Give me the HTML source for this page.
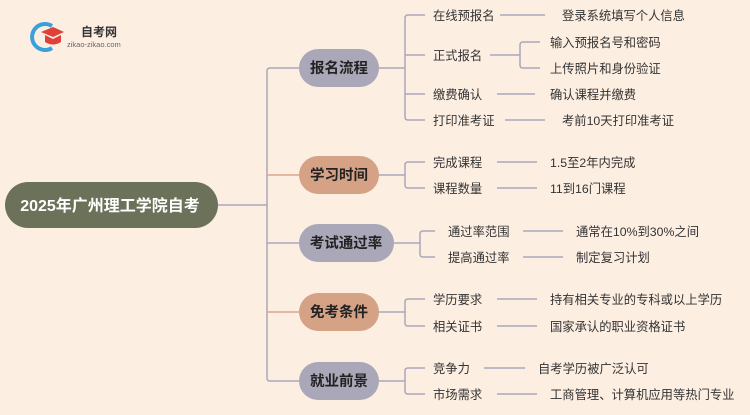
<!DOCTYPE html>
<html><head><meta charset="utf-8"><style>
body{margin:0;width:750px;height:410px;background:#fdeee2;overflow:hidden}
svg text{font-family:"Liberation Sans","Noto Sans CJK SC",sans-serif}
</style></head><body>
<svg width="750" height="410" xmlns="http://www.w3.org/2000/svg">
<rect width="750" height="410" fill="#fdeee2"/>
<path d="M52 26 A13 13 0 1 0 52 48" stroke="#3aa0d8" stroke-width="4" fill="none"/>
<path d="M41 32 L53 27 L64 32 L53 37 Z" fill="#e0403a"/>
<path d="M45 35 L45 42 Q53 47 61 42 L61 35 L53 39 Z" fill="#e0403a"/>
<text x="81" y="36" font-size="12" font-weight="bold" fill="#333">自考网</text>
<text x="67" y="47" font-size="7.5" fill="#666">zikao-zikao.com</text>
<g fill="none" stroke-width="1.5">
<line x1="218" y1="205" x2="267" y2="205" stroke="#aaa7bb"/>
<path d="M299 68 H270 Q267 68 267 71 V378 Q267 381 270 381 H299" stroke="#aaa7bb"/>
<line x1="267" y1="175" x2="299" y2="175" stroke="#dba58a"/>
<line x1="267" y1="243" x2="299" y2="243" stroke="#aaa7bb"/>
<line x1="267" y1="312" x2="299" y2="312" stroke="#dba58a"/>
<g stroke="#aaa7bb">
<line x1="379" y1="68" x2="405" y2="68"/>
<path d="M425 15 H408 Q405 15 405 18 V117 Q405 120 408 120 H425 M405 55 H425 M405 94 H425"/>
<path d="M500 15 H545 M497 94 H535 M505 120 H545"/>
<path d="M490 55 H520 M540 42 H523 Q520 42 520 45 V65 Q520 68 523 68 H540"/>
<line x1="379" y1="175" x2="405" y2="175"/>
<path d="M425 162 H408 Q405 162 405 165 V185 Q405 188 408 188 H425 M497 162 H537 M497 188 H537"/>
<line x1="394" y1="243" x2="420" y2="243"/>
<path d="M435 231 H423 Q420 231 420 234 V254 Q420 257 423 257 H435 M523 231 H563 M523 257 H563"/>
<line x1="379" y1="312" x2="405" y2="312"/>
<path d="M425 299 H408 Q405 299 405 302 V323 Q405 326 408 326 H425 M497 299 H537 M497 326 H537"/>
<line x1="379" y1="381" x2="405" y2="381"/>
<path d="M425 368 H408 Q405 368 405 371 V391 Q405 394 408 394 H425 M484 368 H525 M497 394 H537"/>
</g></g>
<rect x="5" y="182" width="213" height="46" rx="23" fill="#6b7259"/>
<text x="110" y="211" font-size="16" font-weight="bold" fill="#fff" text-anchor="middle">2025年广州理工学院自考</text>
<g font-size="14.5" font-weight="bold" fill="#222" text-anchor="middle">
<rect x="299" y="49" width="80" height="38" rx="19" fill="#aaa7b8"/><text x="339" y="73">报名流程</text>
<rect x="299" y="156" width="80" height="38" rx="19" fill="#d5a286"/><text x="339" y="180">学习时间</text>
<rect x="299" y="224" width="95" height="38" rx="19" fill="#aaa7b8"/><text x="346" y="248">考试通过率</text>
<rect x="299" y="293" width="80" height="38" rx="19" fill="#d5a286"/><text x="339" y="317">免考条件</text>
<rect x="299" y="362" width="80" height="38" rx="19" fill="#aaa7b8"/><text x="339" y="386">就业前景</text>
</g>
<g font-size="12.3" fill="#333">
<text x="433" y="20">在线预报名</text><text x="562" y="20">登录系统填写个人信息</text>
<text x="433" y="60">正式报名</text><text x="550" y="47">输入预报名号和密码</text><text x="550" y="73">上传照片和身份验证</text>
<text x="433" y="99">缴费确认</text><text x="550" y="99">确认课程并缴费</text>
<text x="433" y="125">打印准考证</text><text x="562" y="125">考前10天打印准考证</text>
<text x="433" y="167">完成课程</text><text x="550" y="167">1.5至2年内完成</text>
<text x="433" y="193">课程数量</text><text x="550" y="193">11到16门课程</text>
<text x="448" y="236">通过率范围</text><text x="576" y="236">通常在10%到30%之间</text>
<text x="448" y="262">提高通过率</text><text x="576" y="262">制定复习计划</text>
<text x="433" y="304">学历要求</text><text x="550" y="304">持有相关专业的专科或以上学历</text>
<text x="433" y="331">相关证书</text><text x="550" y="331">国家承认的职业资格证书</text>
<text x="433" y="373">竞争力</text><text x="538" y="373">自考学历被广泛认可</text>
<text x="433" y="399">市场需求</text><text x="550" y="399">工商管理、计算机应用等热门专业</text>
</g>
</svg>
</body></html>
